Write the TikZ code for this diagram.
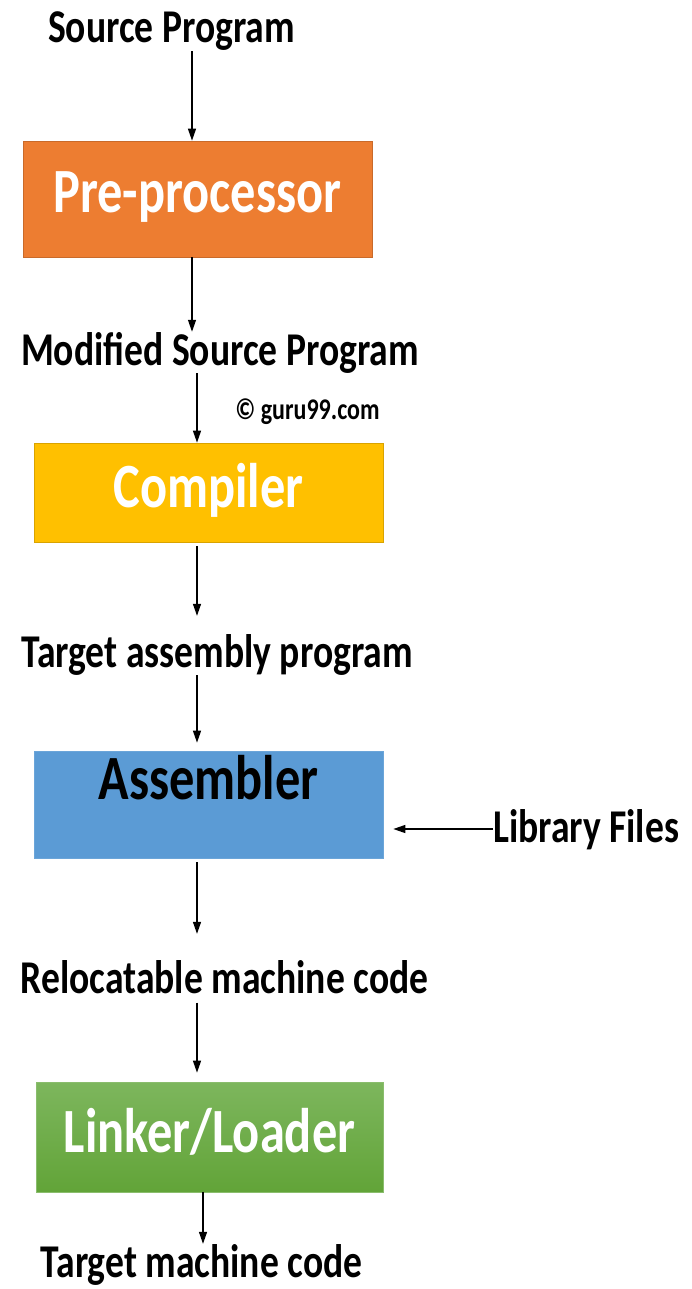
\documentclass[tikz,border=0pt]{standalone}
\usepackage{fontspec}
\setmainfont{Carlito}[FakeStretch=0.8]
\usetikzlibrary{arrows.meta}
\definecolor{cOrange}{HTML}{ED7D31}
\definecolor{cYellow}{HTML}{FFC000}
\definecolor{cBlue}{HTML}{5B9BD5}
\definecolor{cGreenT}{HTML}{7DB65D}
\definecolor{cGreenB}{HTML}{62A438}
\begin{document}
\begin{tikzpicture}[x=1pt,y=-1pt,
  lab/.style={inner sep=0pt, anchor=base, font=\fontsize{47}{50}\selectfont\bfseries},
  boxtxt/.style={inner sep=0pt, anchor=base, line width=0.7pt, font=\fontsize{63}{66}\selectfont\bfseries},
  arr/.style={line width=1.3pt, -{Triangle[length=12pt,width=8pt]}},
]
\useasboundingbox (0,0) rectangle (691,1289);
\fill[white] (0,0) rectangle (691,1289);

% boxes
\node[boxtxt, fill=cOrange, draw=cOrange!85!black, text=white,
      minimum width=349pt, text height=72pt, text depth=44pt] (pre) at (197.5,213) {Pre-processor};
\node[boxtxt, fill=cYellow, draw=cYellow!85!black, text=white,
      minimum width=349pt, text height=64pt, text depth=35pt] (comp) at (208.5,507) {Compiler};
\node[boxtxt, fill=cBlue, draw=cBlue!90!white, text=black,
      minimum width=349pt, text height=48pt, text depth=59pt] (asm) at (208.5,799) {Assembler};
\node[boxtxt, top color=cGreenT, bottom color=cGreenB, draw=cGreenT!90!white, text=white,
      minimum width=347pt, text height=70pt, text depth=40pt] (link) at (209.5,1152) {Linker/Loader};

% labels
\node[lab] (src) at (171.5,43) {Source Program};
\node[lab] (mod) at (220,365) {Modified Source Program};
\node[lab, font=\fontsize{30}{32}\selectfont\bfseries] (guru) at (307.5,419) {© guru99.com};
\node[lab] (tap) at (217,667) {Target assembly program};
\node[lab, anchor=base west] (lib) at (493,842) {Library Files};
\node[lab] (rel) at (224.5,993) {Relocatable machine code};
\node[lab] (tmc) at (201.5,1277) {Target machine code};

% arrow columns
\coordinate (xa) at (192,0);
\coordinate (xb) at (197,0);
\coordinate (xc) at (203,0);

\draw[arr] (src.south -| xa) -- (pre.north -| xa);
\draw[arr] (pre.south -| xa) -- (mod.north -| xa);
\draw[arr] (mod.south -| xb) -- (comp.north -| xb);
\draw[arr, shorten >=18pt, shorten <=4pt] (comp.south -| xb) -- (tap.north -| xb);
\draw[arr, shorten >=8pt] (tap.south -| xb) -- (asm.north -| xb);
\draw[arr, shorten >=26pt, shorten <=4pt] (asm.south -| xb) -- (rel.north -| xb);
\draw[arr, shorten >=9pt, shorten <=9pt] (rel.south -| xb) -- (link.north -| xb);
\draw[arr] (link.south -| xc) -- (tmc.north -| xc);
\draw[arr, shorten >=10pt] (lib.west |- 0,829) -- (asm.east |- 0,829);
\end{tikzpicture}
\end{document}
